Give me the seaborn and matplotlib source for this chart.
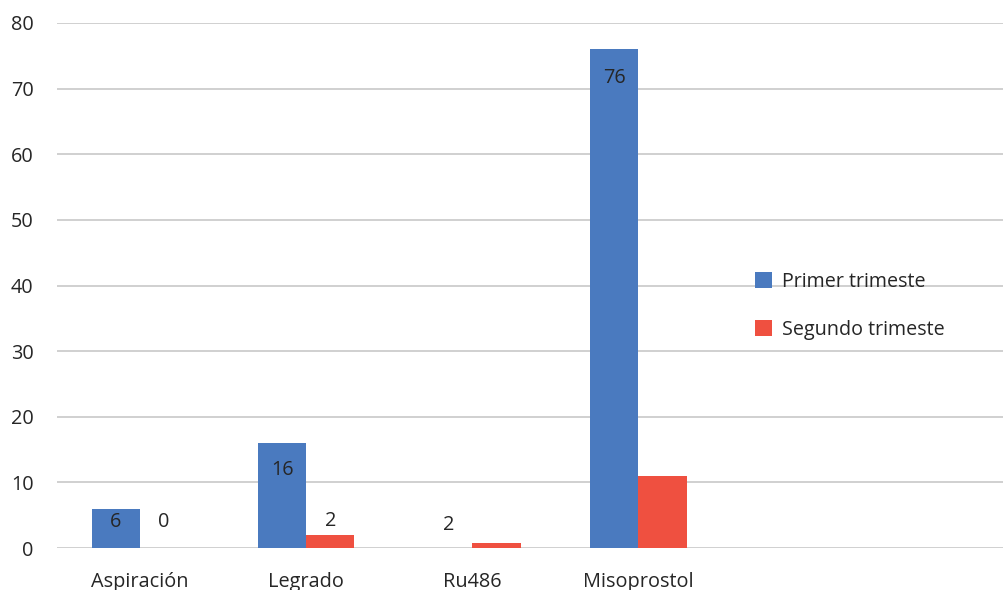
import matplotlib
matplotlib.use("Agg")
import matplotlib.pyplot as plt
import seaborn as sns
import pandas as pd

categories = ["Aspiración", "Legrado", "Ru486", "Misoprostol"]
series_names = ["Primer trimeste", "Segundo trimeste"]
primer = [6, 16, 0, 76]
segundo = [0, 2, 0.7, 11]
primer_labels = ["6", "16", "2", "76"]
segundo_labels = ["0", "2", "", ""]
yticks = [0, 10, 20, 30, 40, 50, 60, 70, 80]

colors = ["#4a7abf", "#ef5040"]

df = pd.DataFrame({
    "cat": categories * 2,
    "serie": [series_names[0]] * len(categories) + [series_names[1]] * len(categories),
    "val": primer + segundo,
})

sns.set_theme(style="white")
plt.rcParams["font.family"] = ["Open Sans", "DejaVu Sans"]

fig = plt.figure(figsize=(10.04, 5.9), dpi=100)
ax = fig.add_axes([57 / 1004, 42 / 590, 1 - 57 / 1004, 525 / 590])

sns.barplot(data=df, x="cat", y="val", hue="serie", order=categories,
            hue_order=series_names, palette=colors, width=0.58,
            saturation=1, linewidth=0, ax=ax, legend=True)

ax.set_xlim(-0.5, 5.2)
ax.set_ylim(0, 80)
ax.set_yticks(yticks)
ax.set_xlabel("")
ax.set_ylabel("")
ax.grid(axis="y", color="#c8c8c8", linewidth=1.2)
ax.set_axisbelow(True)
for s in ax.spines.values():
    s.set_visible(False)
ax.tick_params(axis="both", length=0, labelsize=14.3, colors="#262626")
ax.tick_params(axis="y", pad=17)
ax.tick_params(axis="x", pad=17)

# data labels (pixel offsets from the bar top)
p_off = [-13, -27, 23, -29]
s_off = [26, 14, 0, 0]
txt = dict(ha="center", va="center", fontsize=14.3, color="#262626",
           textcoords="offset pixels")
for bar, lab, off in zip(ax.containers[0], primer_labels, p_off):
    if lab:
        ax.annotate(lab, (bar.get_x() + bar.get_width() / 2, bar.get_height()),
                    xytext=(0, off), **txt)
for bar, lab, off in zip(ax.containers[1], segundo_labels, s_off):
    if lab:
        ax.annotate(lab, (bar.get_x() + bar.get_width() / 2, bar.get_height()),
                    xytext=(0, off), **txt)

leg = ax.legend(loc="upper left", bbox_to_anchor=(690 / 947, 1 - 241 / 525),
                frameon=False, fontsize=14.2, handlelength=0.85, handleheight=0.85,
                handletextpad=0.5, labelspacing=1.4, borderaxespad=0)
for t in leg.get_texts():
    t.set_color("#262626")

fig.savefig("out.png", dpi=100)
